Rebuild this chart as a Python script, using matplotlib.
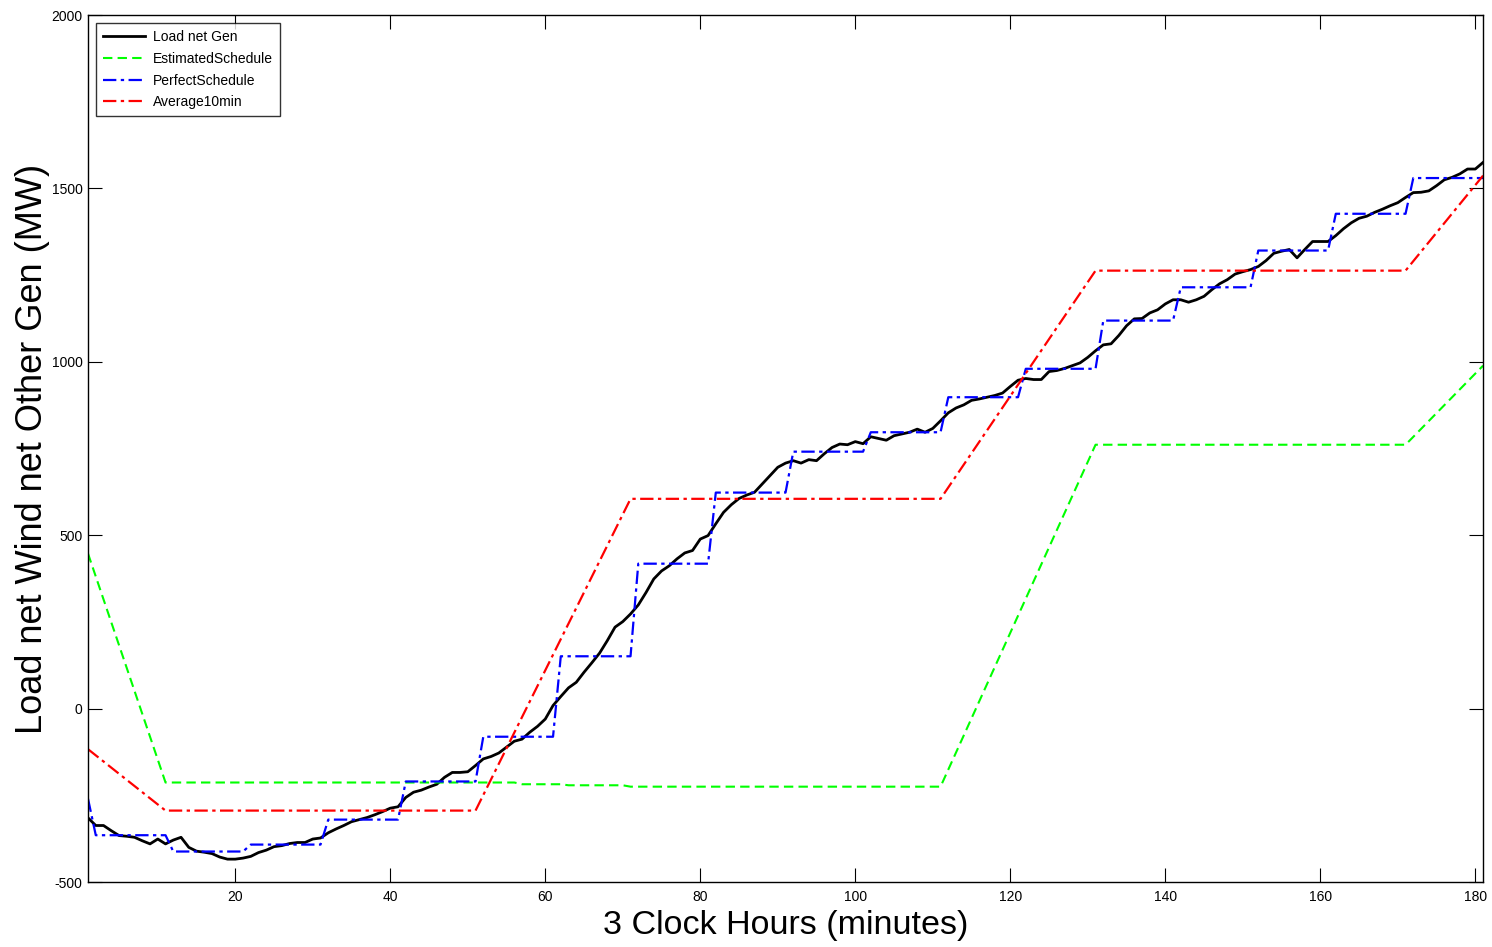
import numpy as np
import matplotlib
matplotlib.use("Agg")
import matplotlib.pyplot as plt

plt.rcParams['font.family'] = ['Liberation Sans', 'DejaVu Sans']
plt.rcParams['axes.unicode_minus'] = False

# minutes 1..181
minutes = np.arange(1, 182)

load_net_gen = [
    -315, -337, -337, -352, -366, -368, -371, -381, -390, -376,
    -390, -379, -371, -400, -411, -414, -418, -428, -434, -434,
    -431, -426, -415, -408, -398, -395, -389, -386, -386, -376,
    -373, -358, -347, -337, -326, -320, -314, -306, -297, -287,
    -283, -256, -241, -235, -226, -218, -198, -184, -184, -182,
    -164, -145, -138, -128, -111, -94, -88, -68, -51, -30,
    9, 35, 60, 76, 105, 132, 160, 196, 235, 251,
    273, 299, 335, 374, 397, 412, 432, 449, 456, 489,
    499, 533, 566, 588, 606, 616, 624, 648, 672, 696,
    708, 715, 708, 718, 715, 735, 753, 763, 761, 770,
    764, 784, 779, 774, 787, 792, 797, 806, 797, 808,
    830, 853, 867, 876, 889, 893, 898, 903, 910, 929,
    947, 952, 949, 949, 972, 975, 981, 989, 997, 1013,
    1032, 1049, 1052, 1076, 1104, 1124, 1125, 1141, 1150, 1167,
    1179, 1179, 1172, 1179, 1189, 1208, 1225, 1237, 1253, 1260,
    1266, 1275, 1292, 1313, 1319, 1324, 1300, 1324, 1347, 1347,
    1347, 1364, 1384, 1401, 1414, 1420, 1431, 1440, 1450, 1459,
    1474, 1488, 1489, 1493, 1508, 1525, 1532, 1542, 1556, 1556, 1575,
]

# perfect schedule: first minute, then one level per 10-minute block
perfect_first = -260
perfect_levels = [-365, -412, -392, -320, -210, -81, 151, 418, 623,
                  741, 797, 898, 980, 1119, 1215, 1321, 1427, 1530]
perfect_schedule = np.concatenate([[perfect_first], np.repeat(perfect_levels, 10)])

# estimated schedule (corner points)
est_x = [1, 11, 56, 57, 62, 63, 70, 71, 111, 131, 171, 181]
est_y = [447, -213, -213, -218, -218, -221, -221, -225, -225, 761, 761, 989]

# 10-minute average (corner points)
avg_x = [1, 11, 51, 71, 111, 131, 171, 181]
avg_y = [-117, -294, -294, 605, 605, 1263, 1263, 1537]

fig = plt.figure(figsize=(14.92, 9.47), dpi=100)
ax = fig.add_axes([0.059, 0.0686, 0.935, 0.9155])

ax.plot(minutes, load_net_gen, color='black', lw=2.0, label='Load net Gen')
ax.plot(est_x, est_y, color='#00ff00', lw=1.5, ls='--', dashes=(4.5, 2.5),
        label='EstimatedSchedule')
ax.plot(minutes, perfect_schedule, color='blue', lw=1.6,
        dashes=(6, 2, 1.5, 2), label='PerfectSchedule')
ax.plot(avg_x, avg_y, color='red', lw=1.6, dashes=(6, 2, 1.5, 2),
        label='Average10min')

ax.set_xlim(1, 181)
ax.set_ylim(-500, 2000)
ax.set_xticks(range(20, 181, 20))
ax.set_yticks(range(-500, 2001, 500))
ax.tick_params(direction='in', length=10, width=0.8, labelsize=10,
               top=True, right=True)
ax.tick_params(axis='x', pad=6)
ax.tick_params(axis='y', pad=4)
for s in ax.spines.values():
    s.set_linewidth(1.0)

ax.set_xlabel('3 Clock Hours (minutes)', fontsize=24.5, labelpad=4)
ax.set_ylabel('Load net Wind net Other Gen (MW)', fontsize=26, labelpad=1)

leg = ax.legend(loc='upper left', fontsize=10, frameon=True, fancybox=False,
                edgecolor='black', handlelength=3.0, borderpad=0.5,
                labelspacing=0.55, borderaxespad=0.6, handletextpad=0.6)
leg.get_frame().set_linewidth(1.0)

fig.savefig('out.png', dpi=100)
